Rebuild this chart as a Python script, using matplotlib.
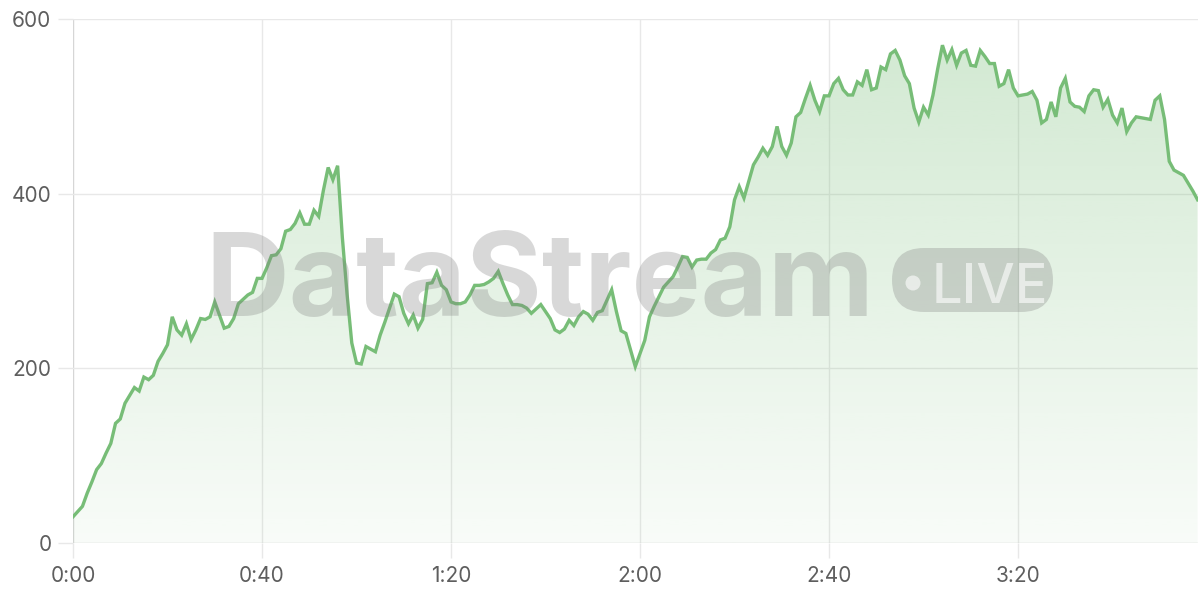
import numpy as np
import matplotlib
matplotlib.use("Agg")
import matplotlib.pyplot as plt
from matplotlib.patches import FancyBboxPatch, Circle
from matplotlib.transforms import IdentityTransform

# one reading per minute, 0:00 .. 3:58
minutes = list(range(239))
values = [
    30, 36, 42, 57, 70, 84, 91, 103, 114, 137,
    142, 160, 169, 178, 174, 190, 187, 192, 208, 217,
    227, 259, 244, 238, 251, 233, 244, 257, 256, 259,
    276, 261, 246, 248, 257, 274, 279, 284, 287, 303,
    303, 315, 329, 330, 337, 357, 359, 366, 378, 365,
    365, 381, 374, 404, 430, 416, 432, 350, 285, 229,
    206, 205, 225, 222, 219, 238, 253, 269, 285, 282,
    263, 251, 261, 246, 256, 297, 298, 310, 295, 290,
    276, 274, 274, 276, 284, 295, 295, 296, 299, 303,
    311, 297, 284, 273, 273, 272, 269, 263, 268, 273,
    265, 257, 244, 241, 245, 255, 249, 259, 265, 262,
    255, 264, 266, 278, 290, 265, 243, 240, 221, 202,
    217, 232, 259, 271, 282, 293, 299, 305, 316, 328,
    327, 316, 324, 325, 325, 332, 336, 347, 349, 362,
    393, 408, 395, 414, 433, 442, 452, 444, 454, 477,
    454, 444, 458, 488, 493, 509, 524, 507, 494, 512,
    512, 526, 532, 519, 513, 513, 528, 524, 542, 519,
    521, 545, 542, 560, 564, 553, 535, 526, 498, 482,
    499, 490, 513, 543, 570, 553, 565, 547, 561, 564,
    547, 546, 564, 557, 549, 549, 523, 526, 542, 521,
    512, 513, 514, 517, 507, 481, 485, 505, 488, 521,
    532, 505, 500, 499, 494, 512, 519, 518, 499, 508,
    490, 481, 498, 471, 481, 488, 487, 486, 485, 507,
    512, 485, 437, 427, 424, 421, 412, 403, 393,
]
x_ticks = [0, 40, 80, 120, 160, 200]
x_tick_labels = ["0:00", "0:40", "1:20", "2:00", "2:40", "3:20"]
y_ticks = [0, 200, 400, 600]
watermark = "DataStream"
badge = "LIVE"

line_color = "#77bd77"
grid_color = "#e8e8e8"
axis_color = "#d6d6d6"
text_color = "#5e5e5e"

plt.rcParams["font.family"] = ["Inter", "DejaVu Sans"]

fig = plt.figure(figsize=(12, 6), dpi=100)
ax = fig.add_axes([73 / 1200, 57 / 600, 1124.6 / 1200, 524 / 600])
ax.set_xlim(minutes[0], minutes[-1])
ax.set_ylim(0, 600)

# grid + tick marks in the same light grey
for t in x_ticks:
    ax.axvline(t, color=axis_color if t == 0 else grid_color, linewidth=1, zorder=0)
for v in y_ticks:
    ax.axhline(v, color=axis_color if v == 0 else grid_color, linewidth=1, zorder=0)
for s in ax.spines.values():
    s.set_visible(False)
ax.set_xticks(x_ticks)
ax.set_xticklabels(x_tick_labels)
ax.set_yticks(y_ticks)
ax.tick_params(axis="both", length=10.5, width=1, color=grid_color,
               labelsize=15, labelcolor=text_color)
ax.tick_params(axis="x", pad=6)
ax.tick_params(axis="y", pad=5)

# gradient fill under the line, clipped to the area polygon
area = ax.fill_between(minutes, values, 0, facecolor="none", edgecolor="none")
clip = area.get_paths()[0]
rgb = matplotlib.colors.to_rgb(line_color)
alpha = np.linspace(0.05, 0.34, 256)
grad = np.zeros((256, 1, 4))
grad[..., 0], grad[..., 1], grad[..., 2] = rgb
grad[:, 0, 3] = alpha
im = ax.imshow(grad, extent=[minutes[0], minutes[-1], 0, 600], origin="lower",
               aspect="auto", zorder=1, interpolation="bilinear")
im.set_clip_path(clip, transform=ax.transData)

# watermark (pixel coordinates, origin bottom-left)
px = IdentityTransform()
fig.text(205, 284, watermark, transform=px, fontsize=83.5, fontweight="bold",
         color="#808080", alpha=0.3, ha="left", va="baseline", zorder=2)
pill = FancyBboxPatch((892, 288), 161, 64, boxstyle="round,pad=0,rounding_size=32",
                      transform=px, facecolor="#808080", edgecolor="none", alpha=0.3, zorder=2)
fig.patches.append(pill)
fig.patches.append(Circle((913, 317), 7.5, transform=px, facecolor="white",
                          edgecolor="none", alpha=0.6, zorder=3))
fig.text(932, 297, badge, transform=px, fontsize=39, fontweight="medium",
         color="white", alpha=0.6, ha="left", va="baseline", zorder=3)

ax.plot(minutes, values, color=line_color, linewidth=2.4, solid_joinstyle="miter", zorder=4)

fig.savefig("out.png", dpi=100)
